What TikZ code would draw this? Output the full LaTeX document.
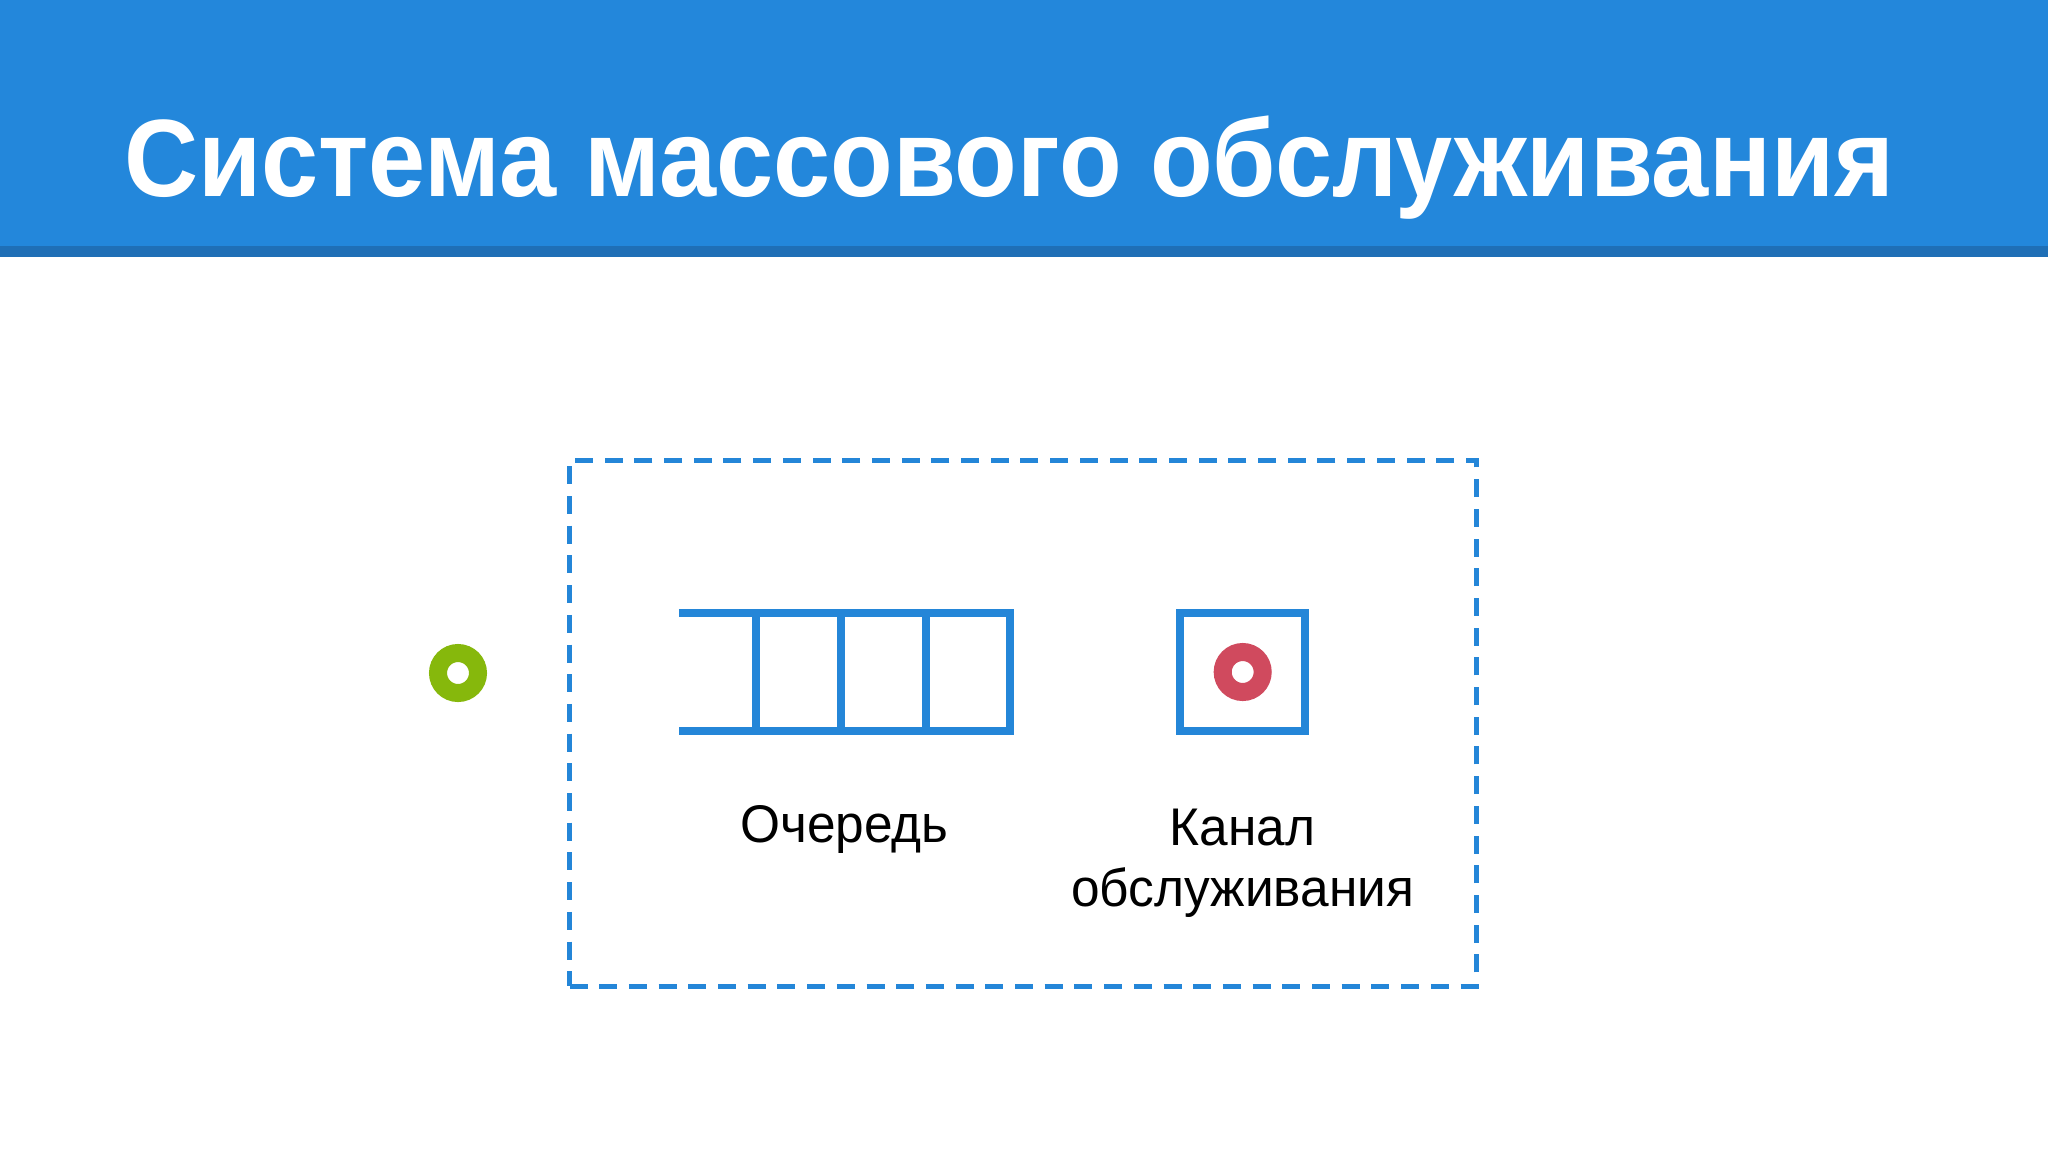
\documentclass[tikz,border=0pt]{standalone}
\usepackage{fontspec}
\setmainfont{Liberation Sans}
\newfontfamily\titlefont[FakeStretch=0.933]{Liberation Sans}
\newfontfamily\lblfont[FakeStretch=0.97]{Liberation Sans}
\usetikzlibrary{positioning}
\usetikzlibrary{calc}

\definecolor{headblue}{HTML}{2387DB}
\definecolor{headdark}{HTML}{1F6FB6}
\definecolor{lineblue}{HTML}{2486D8}
\definecolor{ringgreen}{HTML}{86B80C}
\definecolor{ringred}{HTML}{D04A5E}

\begin{document}
\begin{tikzpicture}[x=1pt,y=-1pt,
    ring/.style={circle,draw=#1,line width=18pt,minimum size=40pt,inner sep=0pt},
    cell/.style={draw=lineblue,line width=8pt,minimum width=125pt,minimum height=118pt,inner sep=0pt},
    lbl/.style={font=\lblfont\fontsize{53}{61}\selectfont,align=center,inner sep=0pt}]

    \useasboundingbox (0,0) rectangle (2048,1152);
    \fill[white] (0,0) rectangle (2048,1152);
    \fill[headblue] (0,0) rectangle (2048,246);
    \fill[headdark] (0,246) rectangle (2048,257);
    \node (title) [anchor=base west,inner sep=0pt,text=white,font=\titlefont\fontsize{110}{120}\selectfont\bfseries] at (124,196) {Система массового обслуживания};

    \node (system) [draw=lineblue,line width=5pt,dash pattern=on 18pt off 11.7pt,minimum width=907pt,minimum height=526pt] at (1023,723) {};
    \node (source) [ring=ringgreen] at (458,673) {};
    \node (queue) [minimum width=331pt,minimum height=118pt,inner sep=0pt] at (844.5,672) {};
    \draw[lineblue,line width=8pt] (queue.north west) -- (queue.north east) -- (queue.south east) -- (queue.south west);
    \foreach \d in {77,162,247}
        \draw[lineblue,line width=8pt] ($(queue.north west)+(\d,0)$) -- ($(queue.south west)+(\d,0)$);
    \node (channel) [cell] at (1242.7,672) {};
    \node (client) [ring=ringred] at (channel) {};
    \node (qlabel) [lbl,below=74pt of queue] {Очередь};
    \node (clabel) [lbl,below=74pt of channel] {Канал\\обслуживания};
\end{tikzpicture}
\end{document}
